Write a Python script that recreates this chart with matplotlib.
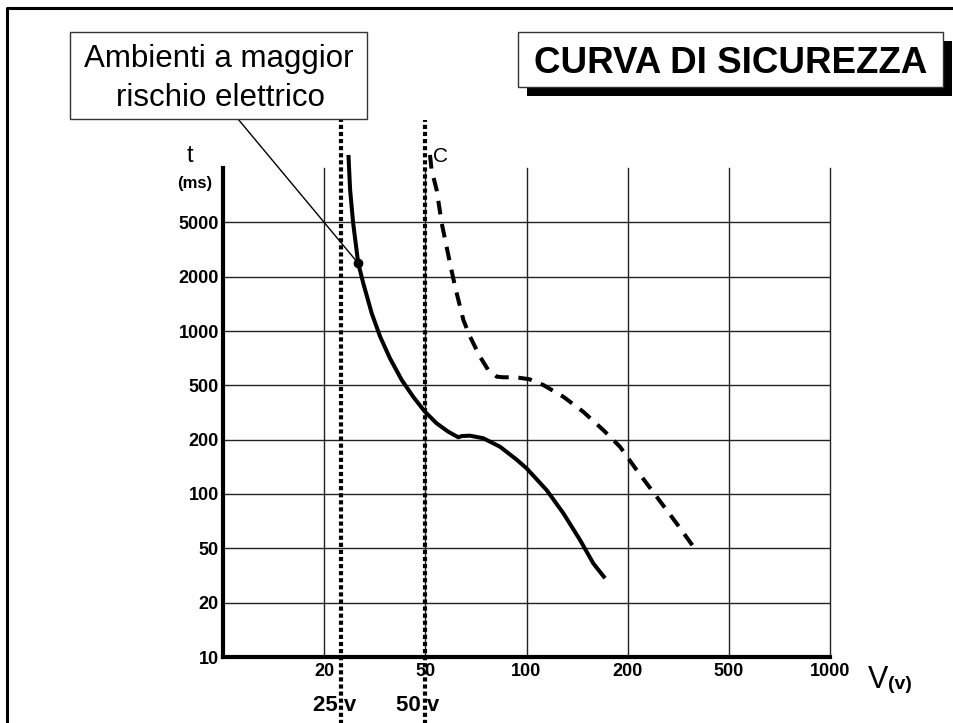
import numpy as np
import matplotlib.pyplot as plt
from matplotlib.patches import Rectangle
from matplotlib.lines import Line2D

plt.rcParams['font.family'] = ['Liberation Sans', 'DejaVu Sans']

W, H = 954, 723

# steps of the chart scales (equally spaced on the paper)
v_steps = [10, 20, 50, 100, 200, 500, 1000]
t_steps = [10, 20, 50, 100, 200, 500, 1000, 2000, 5000, 10000, 20000]

v_ticks = [20, 50, 100, 200, 500, 1000]
t_ticks = [10, 20, 50, 100, 200, 500, 1000, 2000, 5000]

# safety curve, environments with greater electrical risk (25 V)
v_25 = [27.2, 27.7, 28.6, 30.1, 31.6, 34.1, 36.6, 39.5, 43.0, 46.4, 49.9, 55.6,
        61.3, 66.3, 68.0, 72.1, 78.6, 86.9, 95.2, 100.2, 120, 136.4, 152.9,
        166, 177.6]
t_25 = [12400, 7980, 4949, 2739, 1878, 1326, 948, 749, 549, 437, 354, 290,
        244, 213, 220, 222, 208, 187, 163, 147, 107, 82.3, 57.7, 41.7, 33.5]

# safety curve C, ordinary environments (50 V)
v_50 = [52.3, 53.1, 55.6, 58.1, 62.2, 64.7, 68.8, 72.1, 77.0, 81.1, 85.3, 88.5,
        94.8, 102.8, 116.6, 136.4, 156.1, 175.9, 192.4, 226.7, 286, 345, 395]
t_50 = [12400, 9820, 7980, 4949, 2739, 1816, 1203, 948, 764, 641, 580, 574,
        574, 556, 503, 437, 354, 253, 187, 144, 97.5, 73, 51.5]

limit_voltages = [25, 50]
dot_v, dot_t = 30.1, 2739


def P(x, y):
    # pixel position -> figure fraction
    return x / W, 1 - y / H


def fx(v):
    return np.interp(v, v_steps, np.arange(len(v_steps)))


def fx_inv(i):
    return np.interp(i, np.arange(len(v_steps)), v_steps)


def fy(t):
    return np.interp(t, t_steps, np.arange(len(t_steps)))


def fy_inv(i):
    return np.interp(i, np.arange(len(t_steps)), t_steps)


fig = plt.figure(figsize=(W / 100, H / 100), dpi=100)
ax = fig.add_axes([223 / W, 66 / H, 607 / W, 489 / H])

ax.set_xscale('function', functions=(fx, fx_inv))
ax.set_yscale('function', functions=(fy, fy_inv))
ax.set_xlim(10, 1000)
ax.set_ylim(10, 10000)

ax.set_xticks(v_ticks)
ax.set_xticklabels([str(v) for v in v_ticks], fontweight='bold')
ax.set_yticks(t_ticks)
ax.set_yticklabels([str(t) for t in t_ticks], fontweight='bold')
ax.xaxis.set_minor_locator(plt.NullLocator())
ax.yaxis.set_minor_locator(plt.NullLocator())
ax.tick_params(axis='x', length=0, labelsize=13, pad=4.5)
ax.tick_params(axis='y', length=0, labelsize=13, pad=3)
ax.grid(True, color='#222222', lw=1.0)
ax.set_axisbelow(True)
for gl in ax.get_xgridlines():
    gl.set_clip_on(False)

for s in ['top', 'right']:
    ax.spines[s].set_visible(False)
for s in ['left', 'bottom']:
    ax.spines[s].set_linewidth(3)

ax.plot(v_25, t_25, color='black', lw=2.9, clip_on=False,
        solid_capstyle='butt', solid_joinstyle='round')
ax.plot(v_50, t_50, color='black', lw=2.9, clip_on=False,
        linestyle=(0, (3.4, 2.4)), dash_capstyle='butt')

for v in limit_voltages:
    ax.axvline(v, ymin=-0.15, ymax=1.098, clip_on=False, color='black', lw=3,
               linestyle=(0, (1, 0.7)), dash_capstyle='butt', zorder=3)

ax.plot([dot_v], [dot_t], 'o', ms=6, color='black', clip_on=False)
ax.annotate('', xy=(dot_v, dot_t), xycoords='data',
            xytext=P(238, 119), textcoords='figure fraction',
            arrowprops=dict(arrowstyle='-', color='black', lw=1,
                            shrinkA=0, shrinkB=0))

# outer frame
fig.add_artist(Line2D([7 / W, 7 / W, 1], [0, 1 - 8 / H, 1 - 8 / H],
                      color='black', lw=2.2))

# title with shadow
fig.add_artist(Rectangle(P(527, 96), 425 / W, 55 / H, facecolor='black',
                         edgecolor='none'))
fig.add_artist(Rectangle(P(518, 87), 425 / W, 55 / H, facecolor='white',
                         edgecolor='#333333', lw=1))
fig.text(*P(730.5, 73), 'CURVA DI SICUREZZA', fontsize=26.5, fontweight='bold',
         ha='center', va='baseline')

# callout box
fig.add_artist(Rectangle(P(70, 119), 297 / W, 87 / H, facecolor='white',
                         edgecolor='#333333', lw=1))
fig.text(*P(218.5, 67), 'Ambienti a maggior', fontsize=22.5,
         ha='center', va='baseline')
fig.text(*P(221, 106), 'rischio elettrico', fontsize=22.5,
         ha='center', va='baseline')

# axis labels and marks
fig.text(*P(190, 162), 't', fontsize=17, ha='center', va='baseline')
fig.text(*P(195, 188), '(ms)', fontsize=12, fontweight='bold',
         ha='center', va='baseline')
fig.text(*P(441, 162), 'C', fontsize=15, ha='center', va='baseline')
fig.text(*P(868, 688), 'V', fontsize=22, ha='left', va='baseline')
fig.text(*P(888, 689), '(v)', fontsize=14, fontweight='bold',
         ha='left', va='baseline')
fig.text(*P(335, 711), '25 v', fontsize=16, fontweight='bold',
         ha='center', va='baseline')
fig.text(*P(418, 711), '50 v', fontsize=16, fontweight='bold',
         ha='center', va='baseline')

fig.savefig('out.png', dpi=100)
